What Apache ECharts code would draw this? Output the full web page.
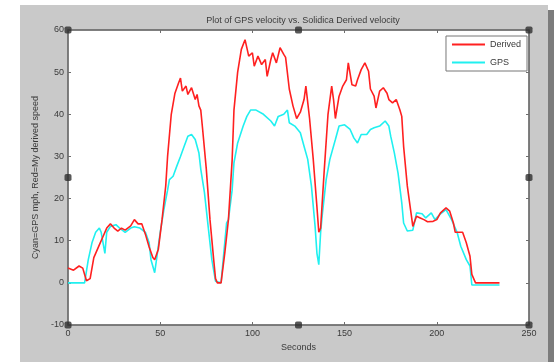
<!DOCTYPE html>
<html>
<head>
<meta charset="utf-8">
<script src="https://cdn.jsdelivr.net/npm/echarts@6/dist/echarts.min.js"></script>
<style>
  html, body { margin: 0; padding: 0; background: #ffffff; }
  #figure { position: absolute; left: 20px; top: 5px; width: 528px; height: 357px; background: #c9c9c9; }
  #edge { position: absolute; left: 548px; top: 10px; width: 6px; height: 352px; background: #7c7c7c; }
  #chart { position: absolute; left: 0; top: 0; width: 554px; height: 362px; }
</style>
</head>
<body>
<div id="figure"></div>
<div id="edge"></div>
<div id="chart"></div>
<script>
// Derived (red) speed
const derivedT = [0, 3, 6, 8, 10, 12, 14, 17, 19, 21, 23, 25, 27, 29, 31, 34, 36, 38, 40, 42, 44, 46, 47, 49, 51, 53, 54, 56, 58, 60, 61, 62, 64, 65, 67, 69, 70, 71, 72, 73, 75, 77, 79, 80, 81, 83, 85, 87, 89, 90, 92, 94, 96, 98, 100, 101, 103, 105, 107, 108, 110, 111, 113, 115, 117, 118, 120, 122, 124, 126, 128, 129, 131, 133, 135, 136, 137, 139, 141, 143, 144, 145, 147, 149, 151, 152, 154, 156, 157, 159, 161, 163, 164, 166, 167, 169, 171, 173, 174, 176, 178, 180, 181, 182, 184, 186, 187, 189, 191, 193, 195, 196, 198, 200, 202, 205, 207, 209, 210, 212, 214, 216, 218, 219, 221, 234];
const derivedV = [3.5, 3, 4, 3.5, 0.5, 1, 6, 9, 11, 13, 14, 13, 12.3, 13, 12.5, 13.5, 15, 14, 14, 11.5, 8.5, 6, 5.5, 8, 15, 23, 30, 40, 45, 47.5, 48.6, 45.5, 46.7, 44.7, 46.3, 43.5, 44.7, 42, 41, 36.5, 27, 15, 5.5, 1, 0, 0, 7, 15, 29, 41, 50, 55.4, 57.7, 53.8, 54.6, 51.4, 53.8, 51.8, 53, 49, 53, 54.6, 52.2, 55.8, 54.2, 53.5, 46, 42, 39, 40.5, 43.5, 46.7, 39, 29.3, 18, 12, 13, 27, 40, 46.7, 43.5, 39, 44.3, 46.7, 48.2, 52.2, 47, 46.7, 48.2, 50.6, 52.2, 50.2, 46, 44.3, 41.5, 45.5, 46.3, 45, 43.5, 42.7, 43.5, 41, 39.5, 32.4, 23, 16.6, 13.4, 15.8, 15.4, 15, 14.5, 14.2, 14.6, 15, 16.6, 17.8, 17, 14.2, 12, 12, 12, 9.5, 6.3, 2, 0, 0];

// GPS (cyan) speed
const gpsT = [0, 9, 11, 13, 15, 17, 18, 20, 21, 23, 26, 28, 31, 34, 36, 39, 42, 44, 45, 47, 48, 50, 52, 54, 55, 57, 59, 61, 63, 65, 67, 69, 71, 72, 74, 76, 78, 80, 81, 83, 85, 86, 87, 89, 90, 92, 95, 97, 99, 102, 106, 110, 112, 114, 117, 119, 120, 123, 126, 128, 130, 132, 134, 135, 136, 137, 138, 140, 142, 145, 147, 150, 153, 155, 157, 159, 162, 164, 166, 169, 172, 174, 175, 177, 179, 181, 182, 184, 187, 189, 192, 194, 197, 199, 202, 205, 208, 211, 213, 216, 218, 219, 234];
const gpsV = [0, 0, 5.5, 9.5, 12, 13, 12, 7, 12, 13.4, 13.8, 13, 12, 13, 13.3, 13, 12, 9.5, 5.5, 2.4, 5.5, 12, 17.4, 22, 24.5, 25.3, 27.7, 30, 32.4, 34.8, 35.2, 34, 30.8, 27, 21.4, 13.4, 5.5, 0.4, 0, 0, 9.5, 14.2, 15, 22, 28.5, 33.2, 37.2, 39.5, 41, 41, 40, 38.4, 37.2, 39.5, 40, 41, 38, 37.2, 35.6, 32.4, 29.3, 23, 13.4, 7, 4.3, 12, 16.6, 24.5, 29.3, 34, 37.2, 37.5, 36.4, 34.4, 33.2, 35.2, 35.2, 36.4, 36.8, 37.2, 38.4, 37.2, 34.8, 30.8, 26, 19, 14.2, 12.3, 12.5, 16.6, 16.4, 15.4, 16.6, 15, 16.4, 17.4, 15, 12, 8.7, 5.5, 4, -0.5, -0.5];

// selection handles on the axes box (figure edit mode)
const handleX = [0, 125, 250, 0, 250, 0, 125, 250];
const handleY = [60, 60, 60, 25, 25, -10, -10, -10];

const xTicks = {min: 0, max: 250, interval: 50};
const yTicks = {min: -10, max: 60, interval: 10};

function pairs(xs, ys) {
  return xs.map((x, i) => [x, ys[i]]);
}

const chart = echarts.init(document.getElementById('chart'));
const font = 'Liberation Sans, Arial, sans-serif';
const frame = '#6e6e6e';
const txt = '#3a3a3a';

const option = {
  animation: false,
  textStyle: {fontFamily: font},
  title: {
    text: 'Plot of GPS velocity vs. Solidica Derived velocity',
    left: 298, top: 11, textAlign: 'center',
    textStyle: {fontSize: 9, fontWeight: 'normal', color: txt, fontFamily: font}
  },
  grid: {left: 68, right: 25, top: 30, bottom: 37, show: true, backgroundColor: '#ffffff', borderColor: frame, borderWidth: 1},
  legend: {
    orient: 'vertical', right: 27, top: 36,
    data: ['Derived', 'GPS'],
    backgroundColor: '#ffffff', borderColor: '#777', borderWidth: 1, borderRadius: 0,
    padding: [4, 6, 4, 6], itemWidth: 33, itemHeight: 2, itemGap: 9,
    icon: 'rect',
    textStyle: {fontSize: 9, color: txt, fontFamily: font}
  },
  xAxis: [
    {
      type: 'value', min: xTicks.min, max: xTicks.max, interval: xTicks.interval,
      name: 'Seconds', nameLocation: 'middle', nameGap: 18,
      nameTextStyle: {fontSize: 9, color: txt},
      axisLine: {show: true, onZero: false, lineStyle: {color: frame, width: 1.5}},
      axisTick: {show: true, inside: true, length: 3, lineStyle: {color: frame}},
      axisLabel: {fontSize: 9, color: txt, margin: 4},
      splitLine: {show: false}
    },
    {
      type: 'value', position: 'top', min: xTicks.min, max: xTicks.max, interval: xTicks.interval,
      axisLine: {show: true, onZero: false, lineStyle: {color: frame, width: 1.5}},
      axisTick: {show: true, inside: true, length: 3, lineStyle: {color: frame}},
      axisLabel: {show: false}, splitLine: {show: false}
    }
  ],
  yAxis: [
    {
      type: 'value', min: yTicks.min, max: yTicks.max, interval: yTicks.interval,
      name: 'Cyan=GPS mph, Red=My derived speed', nameLocation: 'middle', nameGap: 28,
      nameTextStyle: {fontSize: 9, color: txt},
      axisLine: {show: true, onZero: false, lineStyle: {color: frame, width: 1.5}},
      axisTick: {show: true, inside: true, length: 3, lineStyle: {color: frame}},
      axisLabel: {fontSize: 9, color: txt, margin: 4},
      splitLine: {show: false}
    },
    {
      type: 'value', position: 'right', min: yTicks.min, max: yTicks.max, interval: yTicks.interval,
      axisLine: {show: true, onZero: false, lineStyle: {color: frame, width: 1.5}},
      axisTick: {show: true, inside: true, length: 3, lineStyle: {color: frame}},
      axisLabel: {show: false}, splitLine: {show: false}
    }
  ],
  series: [
    {
      name: 'Derived', type: 'line', data: pairs(derivedT, derivedV),
      showSymbol: false, color: '#ff2020',
      lineStyle: {width: 1.6, color: '#ff2020'}, z: 3
    },
    {
      name: 'GPS', type: 'line', data: pairs(gpsT, gpsV),
      showSymbol: false, color: '#20f0f0',
      lineStyle: {width: 1.6, color: '#20f0f0'}, z: 2
    },
    {
      name: 'handles', type: 'scatter', data: pairs(handleX, handleY),
      symbol: 'roundRect', symbolSize: 7, clip: false, silent: true,
      itemStyle: {color: '#2e2e2e'}, z: 5
    }
  ]
};
chart.setOption(option);
</script>
</body>
</html>
